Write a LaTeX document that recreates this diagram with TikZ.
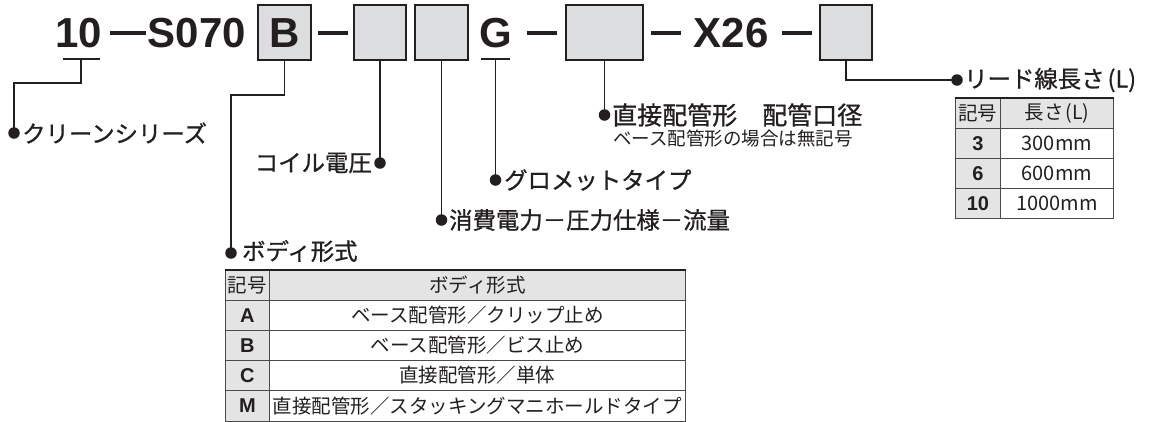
\documentclass[tikz,border=0pt]{standalone}
\usepackage{fontspec}
\setmainfont{Liberation Sans}
\newfontfamily\jp{Noto Sans CJK JP}
\newfontfamily\jpm[FakeBold=0.9]{Noto Sans CJK JP}
\definecolor{ink}{HTML}{231F20}
\definecolor{boxfill}{HTML}{DCDDDF}
\definecolor{cellfill}{HTML}{E4E4E4}
\definecolor{rulecol}{HTML}{4A4A4A}
\begin{document}
\begin{tikzpicture}[x=1pt,y=-1pt,
  code/.style={font=\fontsize{42}{42}\selectfont\bfseries, inner sep=0pt, text=ink},
  slot/.style={draw=ink, line width=1.8pt, fill=boxfill, inner sep=0pt, text height=30pt, text depth=0pt},
  codedash/.style={line width=3.2pt, ink},
  lead/.style={line width=1.8pt, ink},
  dotend/.style={circle, fill=ink, inner sep=0pt, minimum size=11.5pt},
  lbl/.style={font=\jpm\fontsize{23.4}{24}\selectfont, inner sep=0pt, text=ink},
  bigl/.style={font=\jpm\fontsize{25}{26}\selectfont, inner sep=0pt, text=ink},
  subl/.style={font=\jp\fontsize{18.5}{19}\selectfont, inner sep=0pt, text=ink},
  cell/.style={draw=rulecol, line width=0.9pt, inner sep=0pt, minimum height=30pt, anchor=north west, text=ink},
  gcell/.style={cell, fill=cellfill},
  jt/.style={font=\jp\fontsize{19.5}{20}\selectfont},
  bt/.style={font=\fontsize{20}{20}\selectfont\bfseries},
  nt/.style={font=\jp\fontsize{20}{20}\selectfont},
  topline/.style={line width=2.6pt, ink}
]
\useasboundingbox (0,0) rectangle (1149,421);

% ---- code line ----
\node[code, anchor=base] (n10) at (79,47) {10};
\draw[codedash] (110,33) -- (146,33);
\node[code, anchor=base] (s070) at (197,47) {S070};
\node[slot, code, minimum width=53pt, minimum height=55pt] (bxB) at (284.5,32.5) {B};
\draw[codedash] (318,33) -- (348,33);
\node[slot, minimum width=52pt, minimum height=55pt] (bx2) at (380,32.5) {};
\node[slot, minimum width=53pt, minimum height=55pt] (bx3) at (441.5,32.5) {};
\node[code, anchor=base] (nG) at (495.5,47) {G};
\draw[codedash] (527,33) -- (557,33);
\node[slot, minimum width=77pt, minimum height=55pt] (bx4) at (604.5,32.5) {};
\draw[codedash] (651,33) -- (681,33);
\node[code, anchor=base] (nX) at (731,47) {X26};
\draw[codedash] (782,33) -- (812,33);
\node[slot, minimum width=52pt, minimum height=55pt] (bx5) at (846,32.5) {};

% ---- series 10 ----
\coordinate (u10l) at (63,59);
\coordinate (u10r) at (100,59);
\coordinate (u10m) at (81,59);
\coordinate (k1) at (14,83);
\node[dotend] (d1) at (14,133) {};
\node[lbl, anchor=west] (l1) at (22,133) {クリーンシリーズ};
\draw[lead] (u10l) -- (u10r);
\draw[lead] (u10m) |- (k1) -- (d1.center);

% ---- body type ----
\coordinate (kB) at (231,95);
\node[dotend] (dB) at (231,253) {};
\node[lbl, anchor=west] (lB) at (242,251) {ボディ形式};
\draw[lead] (bxB.south) |- (kB) -- (dB.center);

% ---- coil voltage ----
\node[dotend] (d2) at (380,163) {};
\node[lbl, anchor=east] (l2) at (372,163) {コイル電圧};
\draw[lead] (bx2.south) -- (d2.center);

% ---- power/pressure/flow ----
\node[dotend] (d3) at (441.5,220) {};
\node[lbl, anchor=west] (l3) at (449,220) {消費電力－圧力仕様－流量};
\draw[lead] (bx3.south) -- (d3.center);

% ---- grommet ----
\coordinate (uGl) at (481,59);
\coordinate (uGr) at (510,59);
\coordinate (uGm) at (495.5,59);
\node[dotend] (dG) at (495.5,180) {};
\node[lbl, anchor=west] (lG) at (504,180) {グロメットタイプ};
\draw[lead] (uGl) -- (uGr);
\draw[lead] (uGm) -- (dG.center);

% ---- port size ----
\node[dotend] (d4) at (604.5,115) {};
\node[bigl, anchor=west] (l4) at (612,115) {直接配管形　配管口径};
\node[subl, anchor=west] (l4s) at (613,138) {ベース配管形の場合は無記号};
\draw[lead] (bx4.south) -- (d4.center);

% ---- lead wire length ----
\node[dotend] (d5) at (957,80) {};
\node[lbl, anchor=west] (l5) at (964,80) {リード線長さ\kern3pt(L)};
\draw[lead] (bx5.south) |- (d5.center);

% ---- table 1 : body type ----
\node[gcell, jt, minimum width=44pt] (t1a0) at (225,270) {記号};
\node[gcell, jt, minimum width=416pt] (t1b0) at (269,270) {ボディ形式};
\node[gcell, bt, minimum width=44pt] (t1a1) at (225,300) {A};
\node[cell, jt, minimum width=416pt] (t1b1) at (269,300) {ベース配管形／クリップ止め};
\node[gcell, bt, minimum width=44pt] (t1a2) at (225,330) {B};
\node[cell, jt, minimum width=416pt] (t1b2) at (269,330) {ベース配管形／ビス止め};
\node[gcell, bt, minimum width=44pt] (t1a3) at (225,360) {C};
\node[cell, jt, minimum width=416pt] (t1b3) at (269,360) {直接配管形／単体};
\node[gcell, bt, minimum width=44pt, minimum height=31pt] (t1a4) at (225,390) {M};
\node[cell, jt, minimum width=416pt, minimum height=31pt] (t1b4) at (269,390) {直接配管形／スタッキングマニホールドタイプ};
\draw[topline] (t1a0.north west) -- (t1b0.north east);

% ---- table 2 : lead length ----
\node[gcell, jt, minimum width=45pt] (t2a0) at (955,98) {記号};
\node[gcell, jt, minimum width=113pt] (t2b0) at (1000,98) {長さ\kern2pt(L)};
\node[gcell, bt, minimum width=45pt] (t2a1) at (955,128) {3};
\node[cell, nt, minimum width=113pt] (t2b1) at (1000,128) {300mm};
\node[gcell, bt, minimum width=45pt] (t2a2) at (955,158) {6};
\node[cell, nt, minimum width=113pt] (t2b2) at (1000,158) {600mm};
\node[gcell, bt, minimum width=45pt] (t2a3) at (955,188) {10};
\node[cell, nt, minimum width=113pt] (t2b3) at (1000,188) {1000mm};
\draw[topline] (t2a0.north west) -- (t2b0.north east);
\end{tikzpicture}
\end{document}
